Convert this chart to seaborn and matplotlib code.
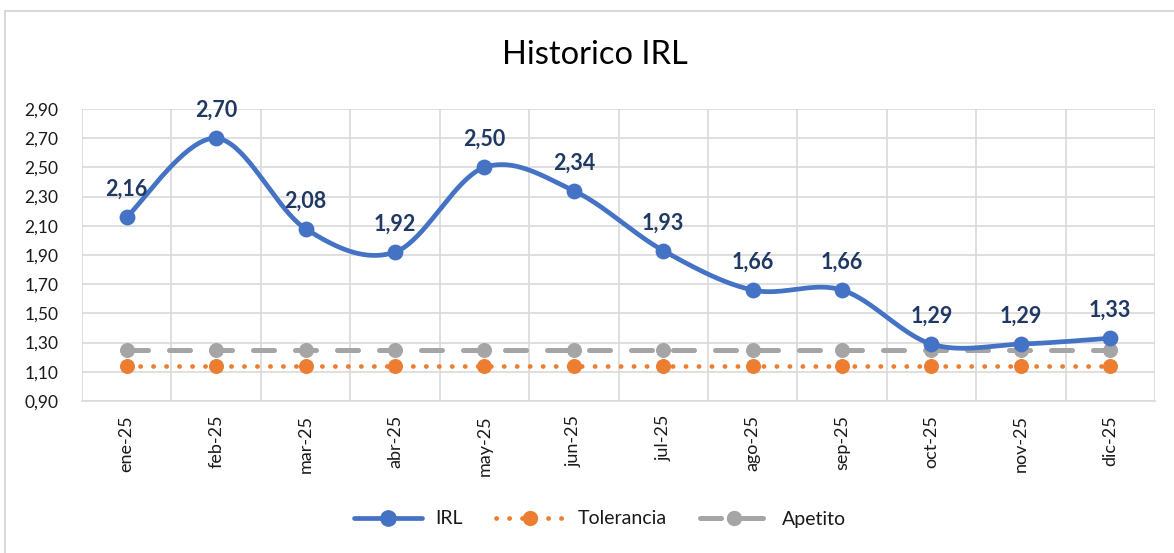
import numpy as np
import pandas as pd
import matplotlib
matplotlib.use("Agg")
import matplotlib.pyplot as plt
import seaborn as sns
from matplotlib.patches import Rectangle
from matplotlib.ticker import FuncFormatter
from matplotlib.lines import Line2D

# ---- data ----
months = ["ene-25", "feb-25", "mar-25", "abr-25", "may-25", "jun-25",
          "jul-25", "ago-25", "sep-25", "oct-25", "nov-25", "dic-25"]
irl = [2.16, 2.70, 2.08, 1.92, 2.50, 2.34, 1.93, 1.66, 1.66, 1.29, 1.29, 1.33]
tolerancia = [1.14] * 12
apetito = [1.25] * 12
y_ticks = [0.90, 1.10, 1.30, 1.50, 1.70, 1.90, 2.10, 2.30, 2.50, 2.70, 2.90]

sns.set_theme(style="white")
plt.rcParams["font.family"] = ["Lato", "DejaVu Sans"]

W, H = 1174, 553
fig = plt.figure(figsize=(W / 100, H / 100), dpi=100)
ax = fig.add_axes([82 / W, 1 - 401 / H, (1155 - 82) / W, (401 - 109) / H])

x = np.arange(len(months))
df = pd.DataFrame({"x": x, "IRL": irl, "Tolerancia": tolerancia, "Apetito": apetito})


# Excel-like smoothed line (Bezier with 1/6 tension, Catmull-Rom style)
def smooth(xs, ys, n=40):
    P = np.column_stack([xs, ys]).astype(float)
    out = []
    for i in range(len(P) - 1):
        p0 = P[i - 1] if i > 0 else P[i]
        p1 = P[i]
        p2 = P[i + 1]
        p3 = P[i + 2] if i + 2 < len(P) else P[i + 1]
        c1 = p1 + (p2 - p0) / 6
        c2 = p2 - (p3 - p1) / 6
        t = np.linspace(0, 1, n, endpoint=(i == len(P) - 2))[:, None]
        seg = ((1 - t) ** 3) * p1 + 3 * ((1 - t) ** 2) * t * c1 + 3 * (1 - t) * t ** 2 * c2 + t ** 3 * p2
        out.append(seg)
    out = np.vstack(out)
    return out[:, 0], out[:, 1]


blue = "#4472C4"
orange = "#ED7D31"
gray = "#A5A5A5"
navy = "#1F3864"
txt = "#1A1A1A"

tol_style = (0, (0.05, 2.7))
ape_style = (0, (4.2, 4.2))

# Tolerancia
sns.lineplot(data=df, x="x", y="Tolerancia", ax=ax, color=orange, lw=3.4,
             linestyle=tol_style, dash_capstyle="round", zorder=3,
             marker="o", markersize=10, markeredgecolor=orange, markerfacecolor=orange)
# Apetito
sns.lineplot(data=df, x="x", y="Apetito", ax=ax, color=gray, lw=3.6,
             linestyle=ape_style, dash_capstyle="round", zorder=3,
             marker="o", markersize=10, markeredgecolor=gray, markerfacecolor=gray)
# IRL smooth
sx, sy = smooth(x, irl)
sns.lineplot(x=sx, y=sy, ax=ax, color=blue, lw=3.4, sort=False, zorder=4,
             solid_capstyle="round")
sns.scatterplot(data=df, x="x", y="IRL", ax=ax, color=blue, s=130, edgecolor=blue,
                linewidth=0, zorder=5)

for xi, v in zip(x, irl):
    ax.annotate(f"{v:.2f}".replace(".", ","), (xi, v), xytext=(0, 12.5),
                textcoords="offset points", ha="center", va="bottom",
                fontsize=15.5, fontweight="bold", color=navy, zorder=6)

ax.set_xlim(-0.5, len(months) - 0.5)
ax.set_ylim(0.90, 2.90)
ax.set_yticks(y_ticks)
ax.yaxis.set_major_formatter(FuncFormatter(lambda v, p: f"{v:.2f}".replace(".", ",")))
ax.set_xticks(x)
ax.set_xticklabels(months, rotation=90)
ax.set_xlabel("")
ax.set_ylabel("")

ax.grid(False)
for yt in y_ticks:
    ax.axhline(yt, color="#D9D9D9", lw=1.2, zorder=0)
for xb in np.arange(-0.5, len(months), 1):
    ax.axvline(xb, color="#D9D9D9", lw=1.2, zorder=0)
for s in ax.spines.values():
    s.set_visible(False)
ax.spines["bottom"].set_visible(True)
ax.spines["bottom"].set_color("#D9D9D9")
ax.spines["bottom"].set_linewidth(1.2)

ax.tick_params(axis="y", length=0, pad=17, labelsize=12.5, labelcolor=txt)
ax.tick_params(axis="x", which="both", length=0, pad=10, labelsize=13, labelcolor=txt)

fig.text(595 / W, 1 - 55 / H, "Historico IRL", ha="center", va="center",
         fontsize=23.5, color="#000000")

# legend
handles = [
    Line2D([], [], color=blue, lw=3.4, marker="o", markersize=11, solid_capstyle="round"),
    Line2D([], [], color=orange, lw=3.4, linestyle=tol_style, dash_capstyle="round",
           marker="o", markersize=10),
    Line2D([], [], color=gray, lw=3.6, linestyle=ape_style, dash_capstyle="round",
           marker="o", markersize=10),
]
fig.legend(handles, ["IRL", "Tolerancia", "Apetito"], loc="center",
           bbox_to_anchor=(600 / W, 1 - 519 / H), ncol=3, frameon=False,
           fontsize=14, handlelength=3.5, handletextpad=0.7, columnspacing=1.7,
           numpoints=1, labelcolor=txt)

# outer chart border
fig.patches.append(Rectangle((5 / W, -0.05), 1.2, 1 - 11 / H + 0.05,
                             transform=fig.transFigure, fill=False,
                             edgecolor="#D9D9D9", lw=1.5))

fig.savefig("out.png", dpi=100)
